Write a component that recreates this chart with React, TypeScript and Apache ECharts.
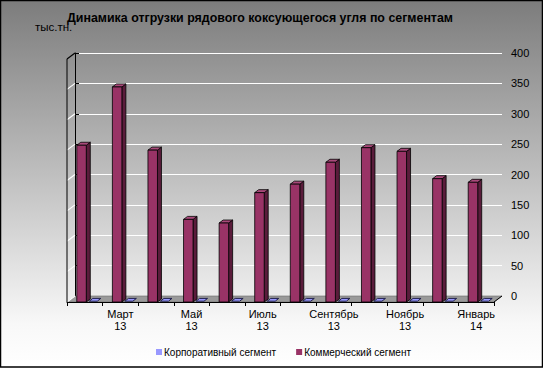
import React, { useEffect, useRef } from "react";
import * as echarts from "echarts";

const months = [
  "Февраль\n13", "Март\n13", "Апрель\n13", "Май\n13", "Июнь\n13", "Июль\n13",
  "Август\n13", "Сентябрь\n13", "Октябрь\n13", "Ноябрь\n13", "Декабрь\n13", "Январь\n14",
];
const corporate = [0, 0, 0, 0, 0, 0, 0, 0, 0, 0, 0, 0];
const commercial = [258, 354, 250, 136, 130, 180, 194, 230, 254, 248, 203, 197];
const yTicks = [0, 50, 100, 150, 200, 250, 300, 350, 400];
const seriesNames = ["Корпоративный сегмент", "Коммерческий сегмент"];

const FONT = "Liberation Sans, Arial, sans-serif";
const DX = 8;
const DY = 6;

export default function App() {
  const ref = useRef<HTMLDivElement>(null);
  useEffect(() => {
    document.body.style.margin = "0";
    const chart = echarts.init(ref.current!, null, { renderer: "svg" });
    const option: any = {
      animation: false,
      backgroundColor: new echarts.graphic.LinearGradient(0, 0, 0, 1, [
        { offset: 0, color: "#7c7c7c" },
        { offset: 0.88, color: "#f8f8f8" },
        { offset: 1, color: "#ffffff" },
      ]),
      textStyle: { fontFamily: FONT },
      grid: [
        { left: 75, right: 41, top: 53, bottom: 72 },
        { left: 67, right: 49, top: 59, bottom: 66 },
      ],
      xAxis: [
        { gridIndex: 0, type: "value", min: 0, max: 1, show: false },
        {
          gridIndex: 1,
          type: "category",
          data: months,
          z: 5,
          boundaryGap: true,
          axisLine: { show: true, lineStyle: { color: "#000", width: 1 } },
          axisTick: { show: true, interval: 0, length: 4, lineStyle: { color: "#000" } },
          axisLabel: {
            interval: (index: number) => index % 2 === 1,
            color: "#000",
            fontSize: 11,
            lineHeight: 12,
            margin: 6,
            fontFamily: FONT,
          },
          splitLine: { show: false },
        },
      ],
      yAxis: [
        {
          gridIndex: 0,
          type: "value",
          position: "right",
          min: 0,
          max: 400,
          interval: 50,
          axisLine: { show: true, lineStyle: { color: "#000", width: 1 } },
          axisTick: { show: true, inside: false, length: 4, lineStyle: { color: "#000" } },
          axisLabel: { color: "#000", fontSize: 11, margin: 9, fontFamily: FONT },
          splitLine: { show: true, lineStyle: { color: "#ffffff", width: 1.2 } },
        },
        { gridIndex: 1, type: "value", min: 0, max: 400, interval: 50, show: false },
      ],
      legend: {
        left: 156,
        top: 347,
        itemWidth: 6,
        itemHeight: 6,
        itemGap: 20,
        padding: 0,
        icon: "rect",
        data: seriesNames,
        textStyle: { color: "#000", fontSize: 10, fontFamily: FONT, padding: [0, 0, 0, -3] },
      },
      graphic: [
        {
          type: "text",
          x: 260,
          y: 12,
          style: {
            text: "Динамика отгрузки рядового коксующегося угля по сегментам",
            font: "bold 12.4px " + FONT,
            fill: "#000",
            textAlign: "center",
            textVerticalAlign: "top",
          },
        },
        {
          type: "text",
          x: 35,
          y: 21,
          style: {
            text: "тыс.тн.",
            font: "11.5px " + FONT,
            fill: "#000",
            textAlign: "left",
            textVerticalAlign: "top",
          },
        },
        {
          type: "rect",
          shape: { x: 0.5, y: 0.5, width: 542, height: 366.5 },
          style: { fill: "none", stroke: "#000", lineWidth: 1.5 },
          z: 100,
        },
      ],
      series: [
        {
          name: "decor",
          type: "custom",
          xAxisIndex: 0,
          yAxisIndex: 0,
          z: 1,
          silent: true,
          legendHoverLink: false,
          data: yTicks.map((v) => [0, v]),
          renderItem: (params: any, api: any) => {
            const v = api.value(1);
            const p = api.coord([0, v]);
            const base = api.coord([0, 0]);
            const L = params.coordSys.x;
            const R = params.coordSys.x + params.coordSys.width;
            const children: any[] = [
              {
                type: "line",
                shape: { x1: L - DX, y1: p[1] + DY, x2: L, y2: p[1] },
                style: { stroke: v === 400 ? "#000" : "#ffffff", lineWidth: 1.2 },
              },
            ];
            if (v === 0) {
              children.unshift({
                type: "polygon",
                shape: {
                  points: [
                    [L, base[1]],
                    [R, base[1]],
                    [R - DX, base[1] + DY],
                    [L - DX, base[1] + DY],
                  ],
                },
                style: { fill: "#9a9a9a", stroke: "#6a6a6a", lineWidth: 0.6 },
              });
              children.push({
                type: "line",
                shape: { x1: R, y1: base[1], x2: R - DX, y2: base[1] + DY },
                style: { stroke: "#000", lineWidth: 1 },
              });
            }
            if (v === 400) {
              children.push({
                type: "line",
                shape: { x1: L - DX, y1: p[1] + DY, x2: L - DX, y2: base[1] + DY },
                style: { stroke: "#000", lineWidth: 1 },
              });
            }
            return { type: "group", children };
          },
        },
        {
          name: seriesNames[0],
          type: "custom",
          xAxisIndex: 1,
          yAxisIndex: 1,
          z: 2,
          itemStyle: { color: "#9999ff" },
          data: corporate.map((v, i) => [i, v]),
          encode: { x: 0, y: 1 },
          renderItem: (params: any, api: any) => {
            const i = api.value(0);
            const v = api.value(1);
            const t = api.coord([i, v]);
            const cx = t[0];
            const y = t[1];
            return {
              type: "polygon",
              shape: {
                points: [
                  [cx + 4.5, y - 0.8],
                  [cx + 12.5, y - 0.8],
                  [cx + 16, y - 3.6],
                  [cx + 8, y - 3.6],
                ],
              },
              style: { fill: "#9999ff", stroke: "#1f1f4a", lineWidth: 1 },
            };
          },
        },
        {
          name: seriesNames[1],
          type: "custom",
          xAxisIndex: 1,
          yAxisIndex: 1,
          z: 2,
          itemStyle: { color: "#993366" },
          data: commercial.map((v, i) => [i, v]),
          encode: { x: 0, y: 1 },
          renderItem: (params: any, api: any) => {
            const i = api.value(0);
            const v = api.value(1);
            const t = api.coord([i, v]);
            const b = api.coord([i, 0]);
            const cx = t[0];
            const x0 = cx - 8;
            const x1 = cx + 1.5;
            const dx = 4;
            const dy = 3;
            const top = t[1];
            const bot = b[1];
            return {
              type: "group",
              children: [
                {
                  type: "polygon",
                  shape: { points: [[x1, top], [x1 + dx, top - dy], [x1 + dx, bot - dy], [x1, bot]] },
                  style: { fill: "#5a1c3b", stroke: "#000", lineWidth: 0.8 },
                },
                {
                  type: "polygon",
                  shape: { points: [[x0, top], [x0 + dx, top - dy], [x1 + dx, top - dy], [x1, top]] },
                  style: { fill: "#a9497a", stroke: "#000", lineWidth: 0.8 },
                },
                {
                  type: "rect",
                  shape: { x: x0, y: top, width: x1 - x0, height: bot - top },
                  style: { fill: "#993366", stroke: "#000", lineWidth: 0.8 },
                },
              ],
            };
          },
        },
      ],
    };
    chart.setOption(option);
    return () => chart.dispose();
  }, []);
  return <div ref={ref} style={{ width: 543, height: 368 }} />;
}
